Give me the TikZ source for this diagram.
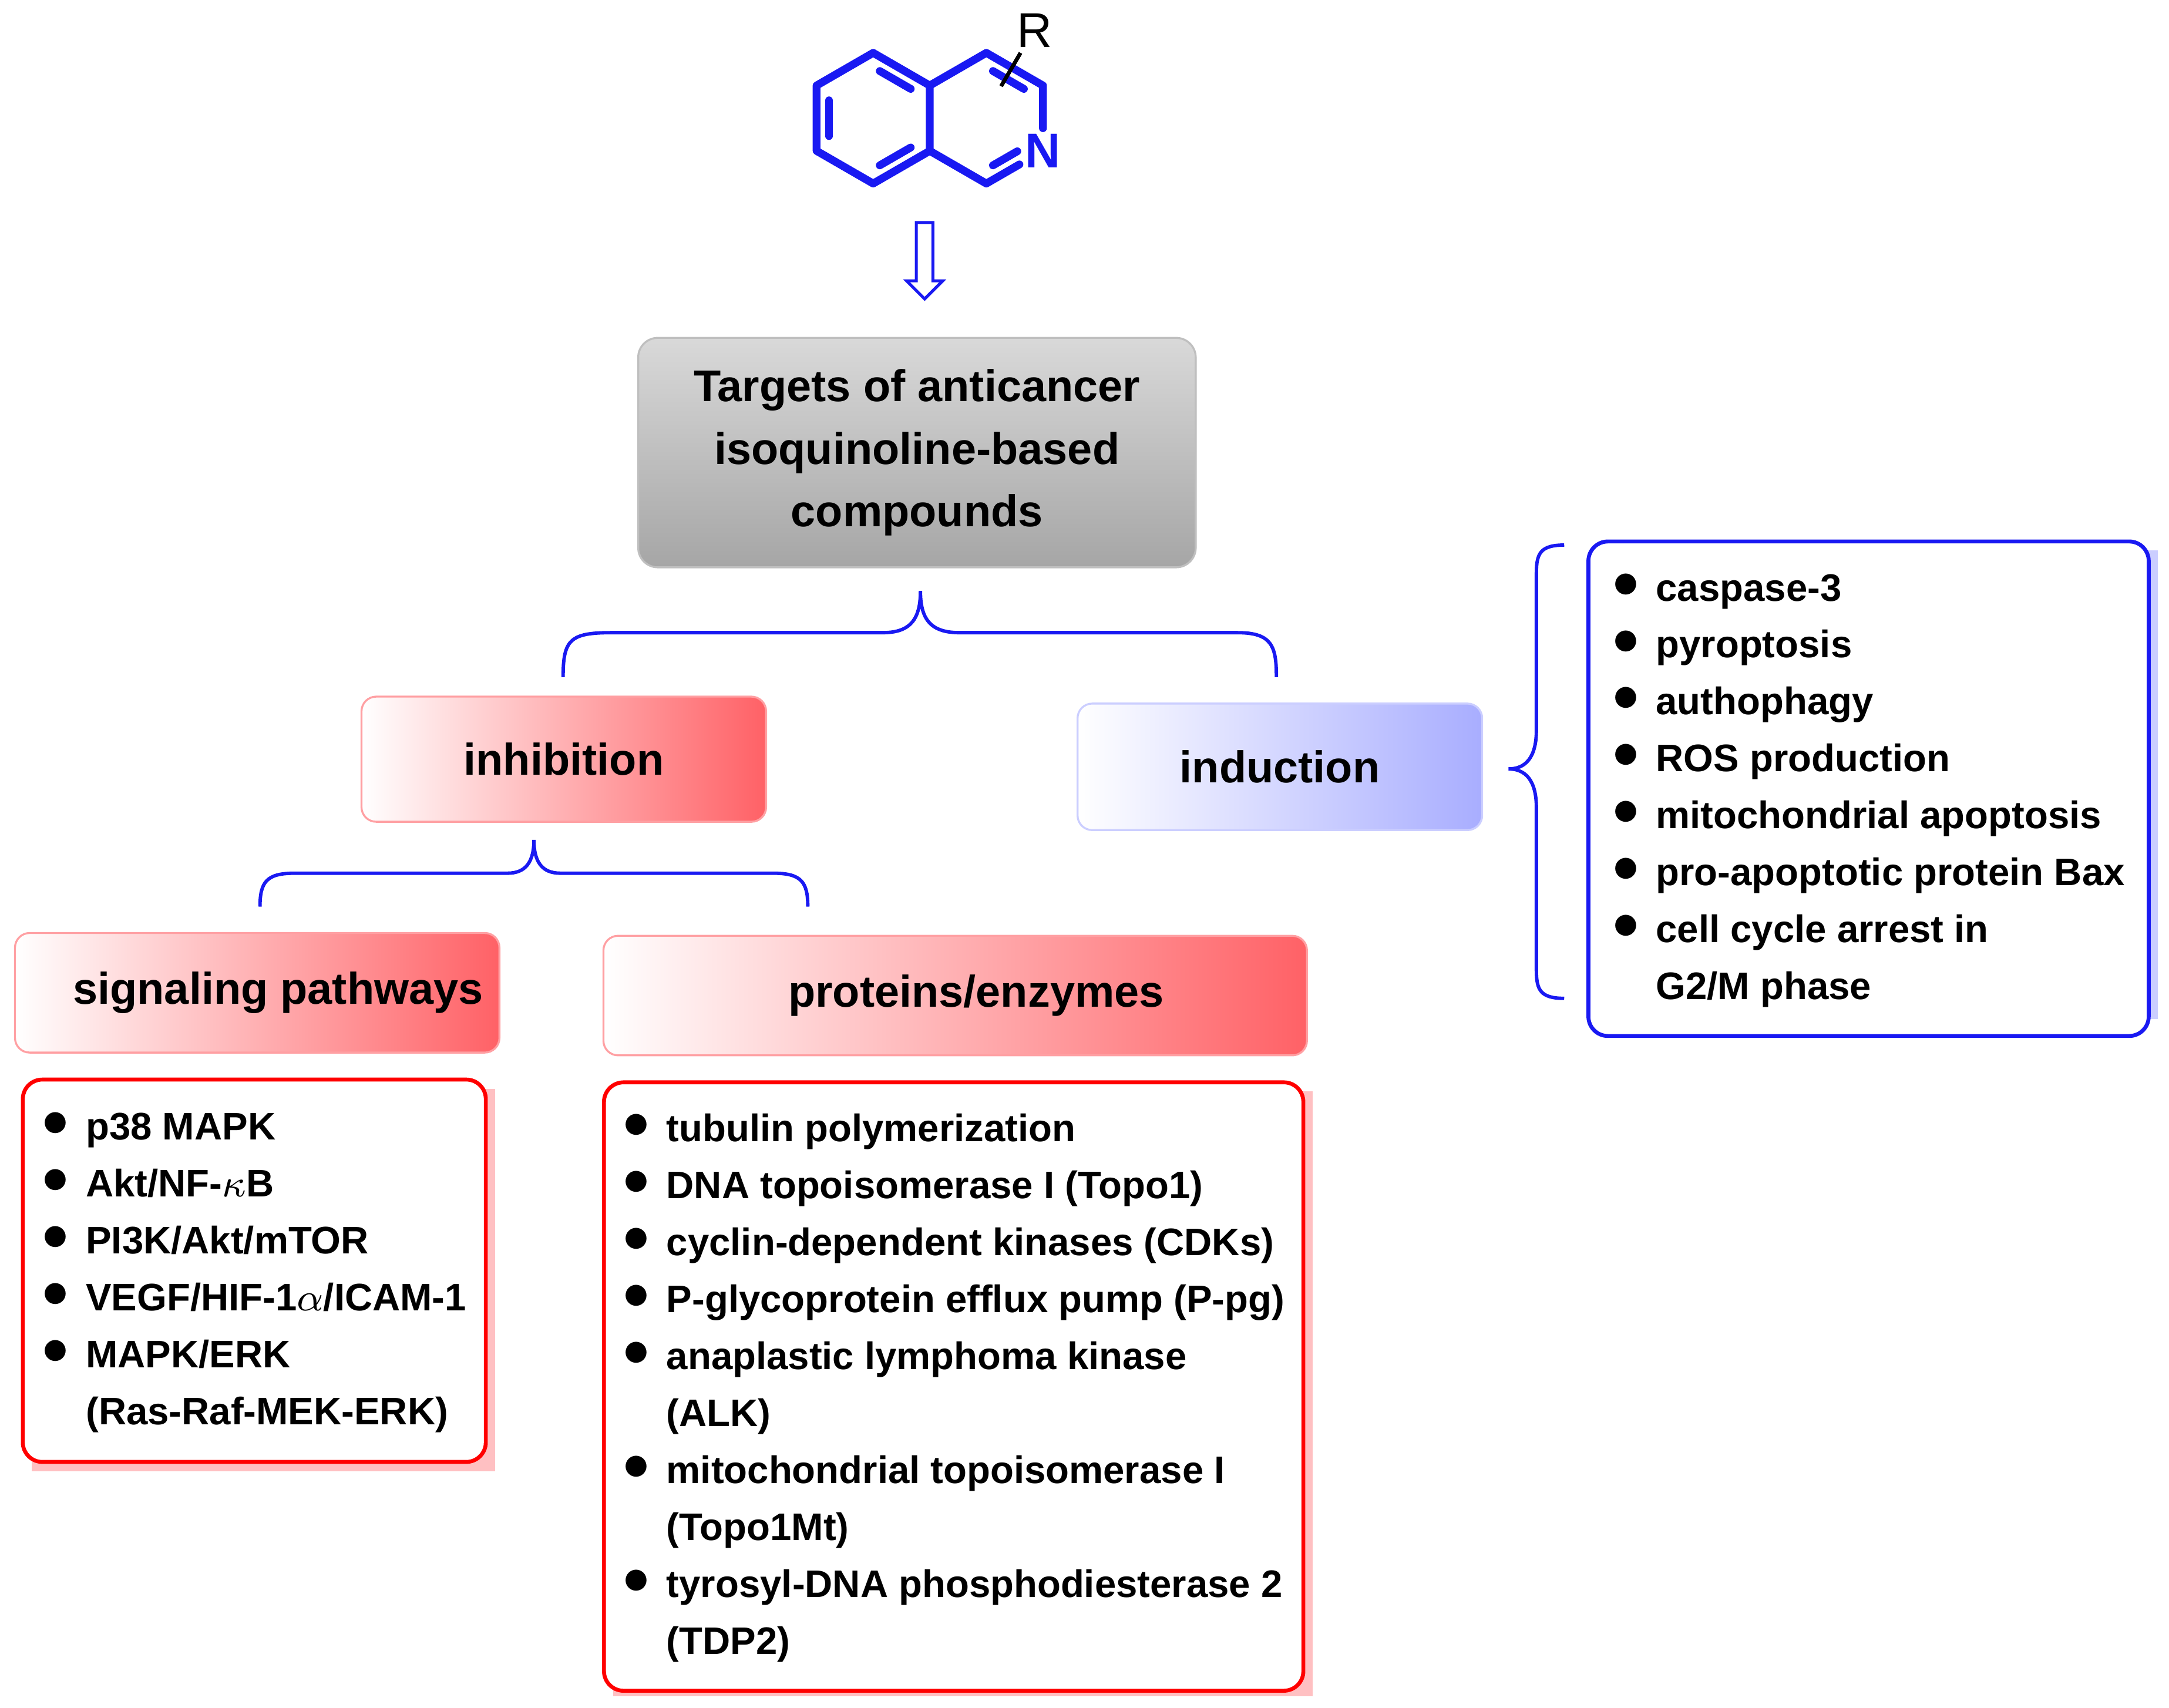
\documentclass[tikz,border=0pt]{standalone}
\usepackage{fontspec}
\setmainfont{Liberation Sans}
\usetikzlibrary{calc}
\definecolor{molblue}{rgb}{0.1,0.1,0.95}
\definecolor{boxred}{rgb}{1.0,0.38,0.40}
\definecolor{boxblue}{rgb}{0.66,0.68,1.0}
\newcommand{\listfont}{\fontsize{7.85}{11.65}\selectfont\bfseries}
\newcommand{\boxfont}{\fontsize{9.1}{12.8}\selectfont\bfseries}
\newcommand{\bul}{\raisebox{0.2ex}{\scalebox{1.3}{$\bullet$}}}
\begin{document}
\begin{tikzpicture}[x=0.1mm,y=-0.1mm]

\tikzset{bond/.style={molblue,line width=1.6pt,line join=round,line cap=round}}
\tikzset{brace/.style={molblue,line width=0.7pt}}
\tikzset{redbox/.style={rounded corners=3pt,draw=boxred!60,left color=white,right color=boxred,font=\boxfont}}
\tikzset{bluebox/.style={rounded corners=3pt,draw=boxblue!60,left color=white,right color=boxblue,font=\boxfont}}
\tikzset{lst/.style={draw=#1,line width=0.8pt,rounded corners=4pt,anchor=north west,align=left,
  inner xsep=3pt,inner ysep=4pt,font=\listfont}}

\useasboundingbox (0,0) rectangle (1560,1228);

% isoquinoline
\coordinate (lc) at (628,85);
\coordinate (rc) at (709.4,85);
\foreach \i/\a in {1/90,2/30,3/-30,4/-90,5/-150,6/150}{
  \coordinate (l\i) at ($(lc)+(\a:47)$);
  \coordinate (r\i) at ($(rc)+(\a:47)$);}
\node[molblue,font=\fontsize{10}{12}\selectfont\bfseries,inner sep=1pt] (nit) at (r2) {N};
\draw[bond] (l1)--(l2)--(l3)--(l4)--(l5)--(l6)--cycle;
\draw[bond] (r6)--(r1) (r1)--(nit) (nit)--(r3) (r3)--(r4)--(r5);
\foreach \c/\a/\b in {lc/l5/l6,lc/l1/l2,lc/l3/l4,rc/r3/r4}
  \draw[bond] ($(\c)!0.78!($(\a)!0.15!(\b)$)$) -- ($(\c)!0.78!($(\b)!0.15!(\a)$)$);
\draw[bond] ($(rc)!0.78!($(r1)!0.15!(r2)$)$) -- ($(rc)!0.78!($(r2)!0.3!(r1)$)$);
\coordinate (rs1) at (720,62);
\coordinate (rs2) at (734,38);
\draw[line width=0.8pt] (rs1) -- (rs2);
\node[font=\fontsize{10}{12}\selectfont] (rsub) at (744,22) {R};

% arrow
\draw[molblue,line width=0.6pt,line join=miter] (659,160) -- (671,160) -- (671,202) -- (678,202)
  -- (665,215) -- (652,202) -- (659,202) -- cycle;

% main boxes
\node[rounded corners=4pt,draw=gray!50,top color=gray!30,bottom color=gray!70,
  minimum width=40.1mm,minimum height=16.5mm,align=center,font=\fontsize{9.1}{12.8}\selectfont\bfseries]
  (targ) at (659.5,325.5) {Targets of anticancer\\isoquinoline-based\\compounds};
\node[redbox,minimum width=29.1mm,minimum height=9mm] (inh) at (405.5,546) {inhibition};
\node[bluebox,minimum width=29.1mm,minimum height=9.1mm] (ind) at (920.5,551.5) {induction};
\node[redbox,minimum width=34mm,minimum height=8.6mm] (sig) at (185,714) {\hspace*{3mm}signaling pathways};
\node[redbox,minimum width=50.6mm,minimum height=8.6mm] (prot) at (687,716) {\hspace*{3mm}proteins/enzymes};

% braces
\draw[brace] (405,487) .. controls (405,460) and (410,455) .. (440,455) -- (635,455)
  .. controls (655,455) and (662,445) .. (662,425)
  .. controls (662,445) and (669,455) .. (690,455) -- (890,455)
  .. controls (915,455) and (918,465) .. (918,487);
\draw[brace] (187,652) .. controls (187,634) and (192,628) .. (212,628) -- (365,628)
  .. controls (378,628) and (384,620) .. (384,604)
  .. controls (384,620) and (390,628) .. (403,628) -- (556,628)
  .. controls (576,628) and (581,634) .. (581,652);
\draw[brace] (1125,392) .. controls (1108,392) and (1105,398) .. (1105,412) -- (1105,525)
  .. controls (1105,545) and (1097,553) .. (1085,553)
  .. controls (1097,553) and (1105,561) .. (1105,581) -- (1105,698)
  .. controls (1105,712) and (1108,718) .. (1125,718);

% lists
\fill[boxred!40] (23,783) rectangle (356,1058);
\node[lst=red,fill=white,minimum width=33.3mm,minimum height=27.5mm] (sigl) at (15,775) {%
\begin{tabular}{@{}l@{\hspace{1.2mm}}l@{}}
\bul & p38 MAPK\\ \bul & Akt/NF-$\kappa$B\\ \bul & PI3K/Akt/mTOR\\
\bul & VEGF/HIF-1$\alpha$/ICAM-1\\ \bul & MAPK/ERK\\ & (Ras-Raf-MEK-ERK)
\end{tabular}};
\fill[boxred!40] (441,785) rectangle (944,1220);
\node[lst=red,fill=white,minimum width=50.3mm,minimum height=43.5mm] (protl) at (433,777) {%
\begin{tabular}{@{}l@{\hspace{1.2mm}}l@{}}
\bul & tubulin polymerization\\ \bul & DNA topoisomerase I (Topo1)\\
\bul & cyclin-dependent kinases (CDKs)\\ \bul & P-glycoprotein efflux pump (P-pg)\\
\bul & anaplastic lymphoma kinase\\ & (ALK)\\ \bul & mitochondrial topoisomerase I\\
 & (Topo1Mt)\\ \bul & tyrosyl-DNA phosphodiesterase 2\\ & (TDP2)
\end{tabular}};
\fill[boxblue!60] (1149,396) rectangle (1552,733);
\node[lst=molblue,fill=white,minimum width=40.3mm,minimum height=33.7mm] (indl) at (1141,388) {%
\begin{tabular}{@{}l@{\hspace{1.2mm}}l@{}}
\bul & caspase-3\\ \bul & pyroptosis\\ \bul & authophagy\\ \bul & ROS production\\
\bul & mitochondrial apoptosis\\ \bul & pro-apoptotic protein Bax\\
\bul & cell cycle arrest in\\ & G2/M phase
\end{tabular}};

\end{tikzpicture}
\end{document}
